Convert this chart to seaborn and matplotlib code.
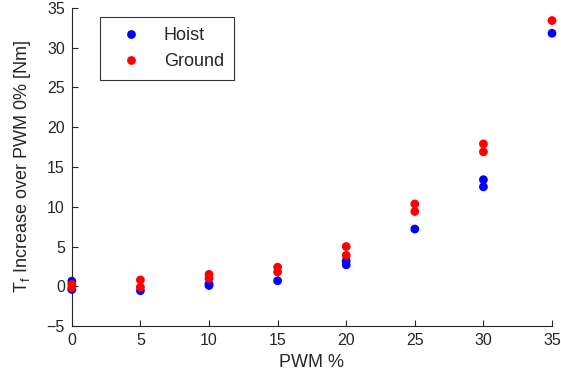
import matplotlib
matplotlib.use('Agg')
import matplotlib.pyplot as plt
import pandas as pd
import seaborn as sns

# values
HOIST_PWM = [0, 0, 5, 10, 10, 15, 20, 20, 25, 30, 30, 35]
HOIST_TF = [0.65, -0.4, -0.55, 0.1, 0.3, 0.7, 3.2, 2.7, 7.2, 13.4, 12.5, 31.8]
GROUND_PWM = [0, 0, 5, 5, 10, 10, 15, 15, 20, 20, 25, 25, 30, 30, 35]
GROUND_TF = [0.25, -0.15, 0.8, -0.1, 1.5, 1.0, 2.4, 1.8, 5.0, 3.9, 10.35, 9.4,
             17.9, 16.9, 33.4]

df = pd.concat([
    pd.DataFrame({'pwm': HOIST_PWM, 'tf': HOIST_TF, 'test': 'Hoist'}),
    pd.DataFrame({'pwm': GROUND_PWM, 'tf': GROUND_TF, 'test': 'Ground'}),
], ignore_index=True)

sns.set_style('white')
plt.rcParams['font.family'] = ['Liberation Sans', 'DejaVu Sans']

fig, ax = plt.subplots(figsize=(5.61, 3.91), dpi=100)
fig.subplots_adjust(left=0.128, right=0.984, bottom=0.166, top=0.980)

sns.scatterplot(x='pwm', y='tf', hue='test', data=df, ax=ax,
                palette={'Hoist': '#0000ff', 'Ground': '#ff0000'},
                s=40, linewidth=0, clip_on=False, zorder=3)

ax.set_xlim(0, 35)
ax.set_ylim(-5, 35)
ax.set_xticks(range(0, 36, 5))
ax.set_yticks(range(-5, 36, 5))
ax.tick_params(direction='in', length=4, width=0.8, colors='#262626',
               labelsize=11.5, left=True, bottom=True, pad=5)
for side in ['top', 'right']:
    ax.spines[side].set_visible(False)
for side in ['left', 'bottom']:
    ax.spines[side].set_color('#262626')
    ax.spines[side].set_linewidth(0.8)

ax.set_xlabel('PWM %', fontsize=13, color='#262626')
ax.set_ylabel('T$_\\mathregular{f}$ Increase over PWM 0% [Nm]', fontsize=13,
              color='#262626', labelpad=10)

leg = ax.legend(loc='upper left', bbox_to_anchor=(0.058, 0.97), fontsize=13,
                frameon=True, fancybox=False, edgecolor='black',
                borderpad=0.55, handletextpad=0.6, handlelength=2.4,
                markerscale=1.0, labelspacing=0.5, borderaxespad=0)
leg.get_frame().set_linewidth(0.8)

fig.savefig('out.png', dpi=100)
